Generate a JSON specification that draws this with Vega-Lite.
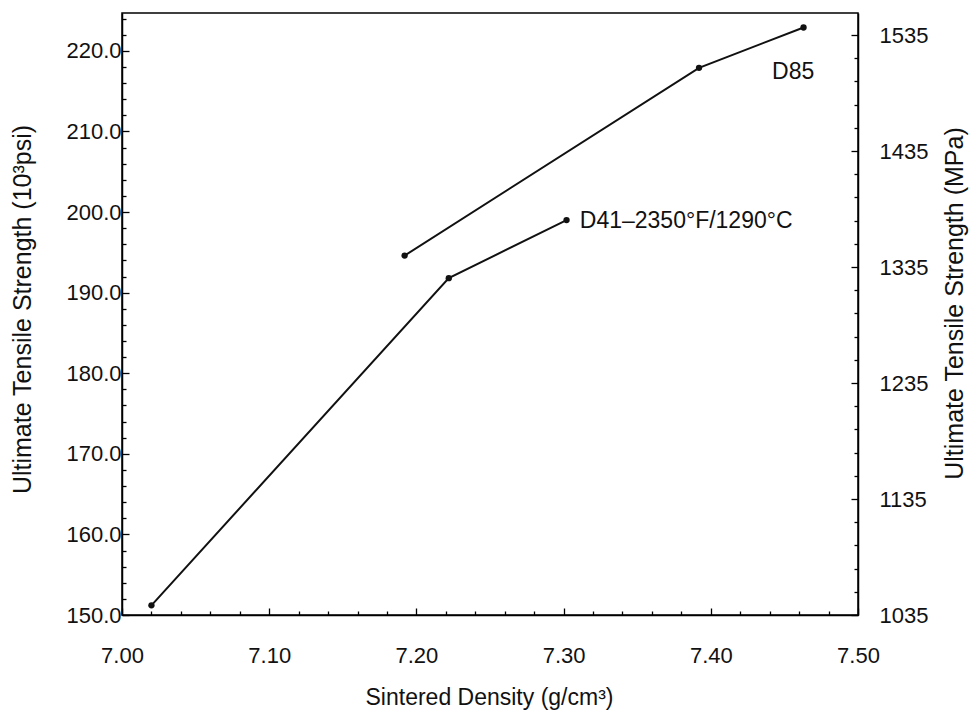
{
  "$schema": "https://vega.github.io/schema/vega-lite/v6.json",
  "width": 736,
  "height": 602,
  "autosize": {"type": "none"},
  "padding": {"left": 122, "top": 13, "right": 112, "bottom": 104},
  "background": "white",
  "config": {
    "view": {"stroke": "#000", "strokeWidth": 1.5},
    "font": "Liberation Sans",
    "axis": {
      "domainColor": "#000", "tickColor": "#000", "labelColor": "#111", "titleColor": "#111",
      "labelFont": "Liberation Sans", "titleFont": "Liberation Sans",
      "labelFontSize": 22, "titleFontSize": 23, "titleFontWeight": "normal",
      "grid": false, "domainWidth": 1.5, "tickWidth": 1.3, "labelOverlap": false, "labelFlush": false
    }
  },
  "datasets": {
    "series": [
      {"series": "D41", "density": 7.02, "ksi": 151.2},
      {"series": "D41", "density": 7.222, "ksi": 191.8},
      {"series": "D41", "density": 7.302, "ksi": 199.0},
      {"series": "D85", "density": 7.192, "ksi": 194.6},
      {"series": "D85", "density": 7.392, "ksi": 217.9},
      {"series": "D85", "density": 7.463, "ksi": 222.9}
    ],
    "labels": [
      {"label": "D85", "density": 7.4416, "ksi": 217.4},
      {"label": "D41–2350°F/1290°C", "density": 7.311, "ksi": 198.9}
    ],
    "mpa": [{"mpa": 1035}, {"mpa": 1535}]
  },
  "layer": [
    {
      "encoding": {
        "x": {
          "field": "density", "type": "quantitative",
          "scale": {"domain": [7.0, 7.5], "nice": false, "zero": false},
          "axis": {
            "values": [7.0,7.02,7.04,7.06,7.08,7.1,7.12,7.14,7.16,7.18,7.2,7.22,7.24,7.26,7.28,7.3,7.32,7.34,7.36,7.38,7.4,7.42,7.44,7.46,7.48,7.5],
            "labelExpr": "round(datum.value*100) % 10 === 0 ? format(datum.value, '.2f') : ''",
            "tickSize": {"condition": {"test": "round(datum.value*100) % 10 === 0", "value": -7}, "value": -4},
            "labelPadding": 37,
            "title": "Sintered Density (g/cm³)",
            "titleX": 367, "titleY": 82, "titleBaseline": "middle", "titleAlign": "center"
          }
        },
        "y": {
          "field": "ksi", "type": "quantitative",
          "scale": {"domain": [150, 224.7], "nice": false, "zero": false},
          "axis": {
            "orient": "left",
            "values": [150,152,154,156,158,160,162,164,166,168,170,172,174,176,178,180,182,184,186,188,190,192,194,196,198,200,202,204,206,208,210,212,214,216,218,220,222,224],
            "labelExpr": "datum.value % 10 === 0 ? format(datum.value, '.1f') : ''",
            "tickSize": {"condition": {"test": "datum.value % 10 === 0", "value": -7}, "value": -4},
            "labelPadding": 8,
            "title": "Ultimate Tensile Strength (10³psi)",
            "titleFontSize": 25,
            "titleX": -100, "titleY": 296, "titleAngle": 270, "titleBaseline": "middle", "titleAlign": "center"
          }
        }
      },
      "layer": [
        {
          "data": {"name": "series"},
          "mark": {"type": "line", "color": "#111", "strokeWidth": 2},
          "encoding": {"detail": {"field": "series"}}
        },
        {
          "data": {"name": "series"},
          "mark": {"type": "point", "filled": true, "color": "#111", "size": 40, "opacity": 1}
        },
        {
          "data": {"name": "labels"},
          "mark": {"type": "text", "align": "left", "baseline": "middle", "fontSize": 23, "font": "Liberation Sans", "color": "#111"},
          "encoding": {"text": {"field": "label"}}
        }
      ]
    },
    {
      "data": {"name": "mpa"},
      "mark": {"type": "point", "opacity": 0},
      "encoding": {
        "y": {
          "field": "mpa", "type": "quantitative",
          "scale": {"domain": [1035, 1554], "nice": false, "zero": false},
          "axis": {
            "orient": "right",
            "values": [1035,1055,1075,1095,1115,1135,1155,1175,1195,1215,1235,1255,1275,1295,1315,1335,1355,1375,1395,1415,1435,1455,1475,1495,1515,1535],
            "labelExpr": "(datum.value - 1035) % 100 === 0 ? format(datum.value, 'd') : ''",
            "tickSize": {"condition": {"test": "(datum.value - 1035) % 100 === 0", "value": -7}, "value": -4},
            "labelPadding": 28,
            "title": "Ultimate Tensile Strength (MPa)",
            "titleFontSize": 25,
            "titleX": 96, "titleY": 290, "titleAngle": 270, "titleBaseline": "middle", "titleAlign": "center"
          }
        }
      }
    }
  ],
  "resolve": {"scale": {"y": "independent"}}
}
